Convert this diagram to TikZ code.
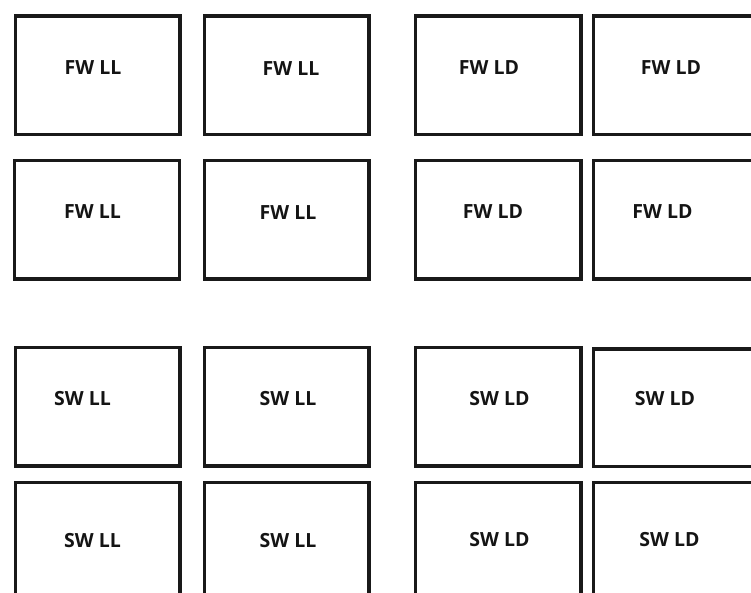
\documentclass[tikz,border=0pt]{standalone}
\usepackage{fontspec}
\setmainfont{Open Sans}
\begin{document}
\begin{tikzpicture}[x=1pt,y=-1pt,
  panel/.style={draw=black!90, line width=3.4pt, rectangle, inner sep=0pt,
    anchor=north west, minimum width=164.6pt, minimum height=118.6pt},
  lbl/.style={inner sep=0pt, font=\fontsize{19.5}{22}\selectfont\bfseries, text=black!92}]
\useasboundingbox (0,0) rectangle (751,593);
\clip (0,0) rectangle (751,593);
% row 1
\node[panel] (b11) at (13.7,14.4) {};
\node[panel] (b12) at (202.7,14.4) {};
\node[panel, minimum width=165.6pt] (b13) at (413.7,14.4) {};
\node[panel] (b14) at (591.7,14.4) {};
% row 2
\node[panel] (b21) at (13,158.7) {};
\node[panel] (b22) at (202.7,158.7) {};
\node[panel, minimum width=165.6pt] (b23) at (413.7,158.7) {};
\node[panel] (b24) at (591.7,158.7) {};
% row 3
\node[panel] (b31) at (13.7,345.7) {};
\node[panel] (b32) at (202.7,345.7) {};
\node[panel, minimum width=165.6pt] (b33) at (413.7,345.7) {};
\node[panel, minimum height=117.6pt] (b34) at (591.7,347.2) {};
% row 4
\node[panel] (b41) at (13.7,480.7) {};
\node[panel] (b42) at (202.7,480.7) {};
\node[panel, minimum width=165.6pt] (b43) at (413.7,480.7) {};
\node[panel] (b44) at (591.7,480.7) {};
% labels
\node[lbl] (t11) at (93,67.5) {FW LL};
\node[lbl] (t12) at (291,69) {FW LL};
\node[lbl] (t13) at (489,68) {FW LD};
\node[lbl] (t14) at (671,68) {FW LD};
\node[lbl] (t21) at (92.5,212) {FW LL};
\node[lbl] (t22) at (288,213) {FW LL};
\node[lbl] (t23) at (493,212) {FW LD};
\node[lbl] (t24) at (662.5,212) {FW LD};
\node[lbl] (t31) at (82.5,399) {SW LL};
\node[lbl] (t32) at (288,399) {SW LL};
\node[lbl] (t33) at (499.5,399) {SW LD};
\node[lbl] (t34) at (665,399) {SW LD};
\node[lbl] (t41) at (92.5,541) {SW LL};
\node[lbl] (t42) at (288,541) {SW LL};
\node[lbl] (t43) at (499.5,540) {SW LD};
\node[lbl] (t44) at (669.5,540) {SW LD};
\end{tikzpicture}
\end{document}
